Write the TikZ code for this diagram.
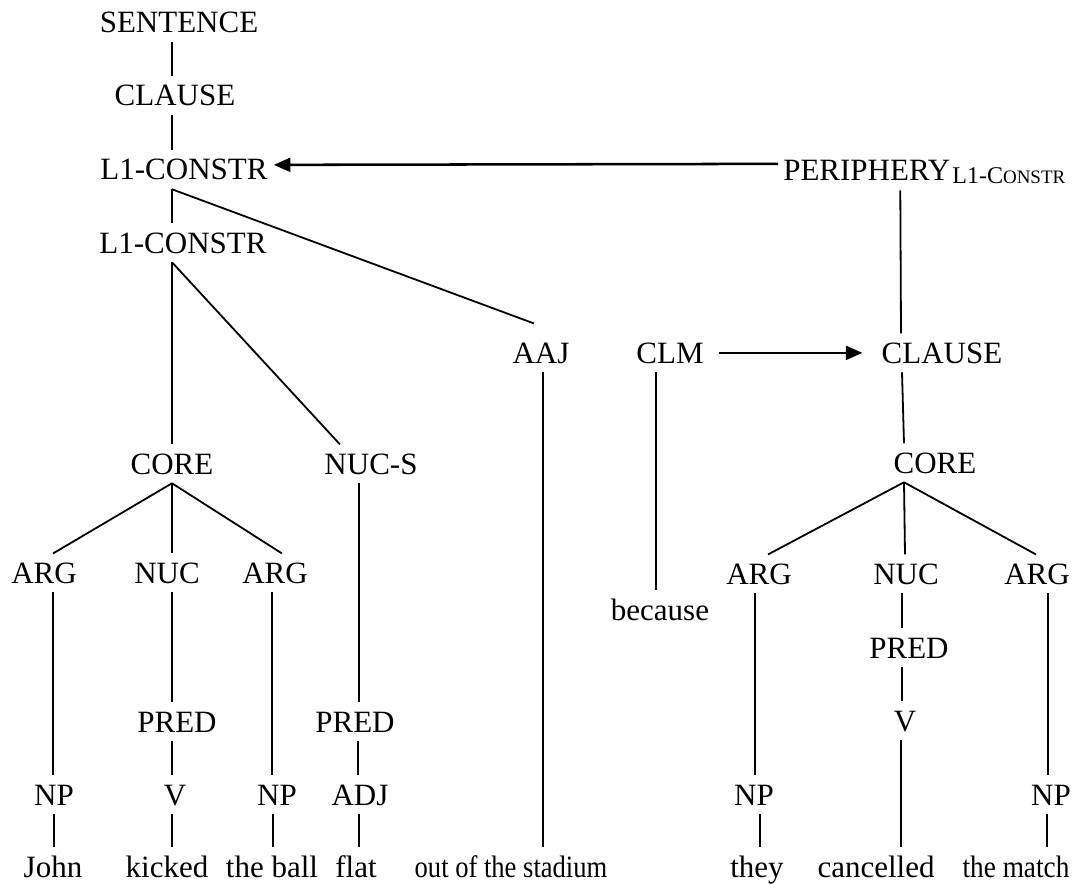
\documentclass[tikz,border=0pt]{standalone}
\usepackage{fontspec}
\usepackage{graphicx}
\setmainfont{Liberation Serif}
\usetikzlibrary{arrows.meta}
\begin{document}
\begin{tikzpicture}[x=0.75pt,y=-0.75pt,
  lab/.style={anchor=base,inner xsep=0pt,inner ysep=6.75pt,text height=15.2pt,text depth=0pt,font=\fontsize{23.25pt}{28pt}\selectfont},
  edge/.style={line width=1.35pt},
  arr/.style={line width=1.9pt,-{Triangle[length=12.5pt,width=10.5pt]}}]
\useasboundingbox (0,0) rectangle (1081,884);
% nodes
\node[lab] (sent) at (179,33) {SENTENCE};
\node[lab] (cl1) at (175,106) {CLAUSE};
\node[lab] (lc1) at (184,180) {L1-CONSTR};
\node[lab] (lc2) at (183,253) {L1-CONSTR};
\node[lab] (coreL) at (172,474) {CORE};
\node[lab] (nucs) at (371,474) {NUC-S};
\node[lab] (aaj) at (541,363) {AAJ};
\node[lab] (clm) at (670,363) {CLM};
\node[lab] (clR) at (942,363) {CLAUSE};
\node[lab,anchor=base west] (peri) at (783,181) {PERIPHERY\hspace{1.5pt}\raisebox{-2.25pt}{\fontsize{18pt}{20pt}\selectfont L1-C\fontsize{14.25pt}{16pt}\selectfont ONSTR}};
\node[lab] (coreR) at (935,473) {CORE};
\node[lab] (argL1) at (44,583) {ARG};
\node[lab] (nucL) at (167,583) {NUC};
\node[lab] (argL2) at (275,583) {ARG};
\node[lab] (argR1) at (759,584) {ARG};
\node[lab] (nucR) at (906,584) {NUC};
\node[lab] (argR2) at (1037,584) {ARG};
\node[lab] (because) at (660,620) {because};
\node[lab] (predL) at (177,732) {PRED};
\node[lab] (predS) at (355,732) {PRED};
\node[lab] (predR) at (909,658) {PRED};
\node[lab] (vL) at (175,805) {V};
\node[lab] (vR) at (905,731) {V};
\node[lab] (np1) at (54,805) {NP};
\node[lab] (np2) at (277,805) {NP};
\node[lab] (adj) at (360,805) {ADJ};
\node[lab] (np3) at (754,805) {NP};
\node[lab] (np4) at (1051,805) {NP};
\node[lab] (wjohn) at (53,877) {John};
\node[lab] (wkicked) at (167,877) {kicked};
\node[lab] (wball) at (272,877) {the ball};
\node[lab] (wflat) at (356,877) {flat};
\node[lab] (wstad) at (511,877) {\scalebox{0.857}[1]{out of the stadium}};
\node[lab] (wthey) at (757,877) {they};
\node[lab] (wcanc) at (876,877) {cancelled};
\node[lab] (wmatch) at (1016,877) {\scalebox{0.88}[1]{the match}};
% left tree
\draw[edge] ([shift={(-7,0)}]sent.south) -- ([shift={(-3,0)}]cl1.north);
\draw[edge] ([shift={(-3,0)}]cl1.south) -- ([shift={(-12,0)}]lc1.north);
\draw[edge] ([shift={(-12,0)}]lc1.south) -- ([shift={(-11,0)}]lc2.north);
\draw[edge] ([shift={(-12,0)}]lc1.south) -- ([shift={(-7,-10)}]aaj.north);
\draw[edge] ([shift={(-11,0)}]lc2.south) -- (coreL.north);
\draw[edge] ([shift={(-11,0)}]lc2.south) -- ([shift={(-31,0)}]nucs.north);
\draw[edge] ([shift={(2,0)}]aaj.south) -- ([shift={(32,0)}]wstad.north);
\draw[edge] ([shift={(-14,0)}]clm.south) -- ([shift={(-4,0)}]because.north);
\draw[edge] (coreL.south) -- ([shift={(9,0)}]argL1.north);
\draw[edge] (coreL.south) -- ([shift={(5,0)}]nucL.north);
\draw[edge] (coreL.south) -- ([shift={(7,0)}]argL2.north);
\draw[edge] ([shift={(9,0)}]argL1.south) -- ([shift={(-1,0)}]np1.north);
\draw[edge] (np1.south) -- ([shift={(1,0)}]wjohn.north);
\draw[edge] ([shift={(5,0)}]nucL.south) -- ([shift={(-5,0)}]predL.north);
\draw[edge] ([shift={(-5,0)}]predL.south) -- ([shift={(-3,0)}]vL.north);
\draw[edge] ([shift={(-3,0)}]vL.south) -- ([shift={(5,0)}]wkicked.north);
\draw[edge] ([shift={(-3,0)}]argL2.south) -- ([shift={(-5,0)}]np2.north);
\draw[edge] ([shift={(-4,0)}]np2.south) -- ([shift={(1,0)}]wball.north);
\draw[edge] ([shift={(-12,0)}]nucs.south) -- ([shift={(4,0)}]predS.north);
\draw[edge] ([shift={(3,0)}]predS.south) -- ([shift={(-2,0)}]adj.north);
\draw[edge] ([shift={(-1,0)}]adj.south) -- ([shift={(3,0)}]wflat.north);
% right tree
\draw[edge] ([shift={(-24,0)}]peri.south) -- ([shift={(-41,0)}]clR.north);
\draw[edge] ([shift={(-40,0)}]clR.south) -- ([shift={(-31,0)}]coreR.north);
\draw[edge] ([shift={(-31,0)}]coreR.south) -- ([shift={(9,0)}]argR1.north);
\draw[edge] ([shift={(-31,0)}]coreR.south) -- ([shift={(-1,0)}]nucR.north);
\draw[edge] ([shift={(-31,0)}]coreR.south) -- ([shift={(-1,0)}]argR2.north);
\draw[edge] ([shift={(-4,0)}]argR1.south) -- ([shift={(1,0)}]np3.north);
\draw[edge] ([shift={(6,0)}]np3.south) -- ([shift={(3,0)}]wthey.north);
\draw[edge] ([shift={(-4,0)}]nucR.south) -- ([shift={(-7,0)}]predR.north);
\draw[edge] ([shift={(-7,0)}]predR.south) -- ([shift={(-3,0)}]vR.north);
\draw[edge] ([shift={(-4,0)}]vR.south) -- ([shift={(25,0)}]wcanc.north);
\draw[edge] ([shift={(11,0)}]argR2.south) -- ([shift={(-3,0)}]np4.north);
\draw[edge] ([shift={(-4,0)}]np4.south) -- ([shift={(31,0)}]wmatch.north);
% arrows
\draw[arr] ([shift={(-5,-7)}]peri.west) -- ([shift={(6,-5)}]lc1.east);
\draw[arr] ([shift={(15,0)}]clm.east) -- ([shift={(-19,0)}]clR.west);
\end{tikzpicture}
\end{document}
